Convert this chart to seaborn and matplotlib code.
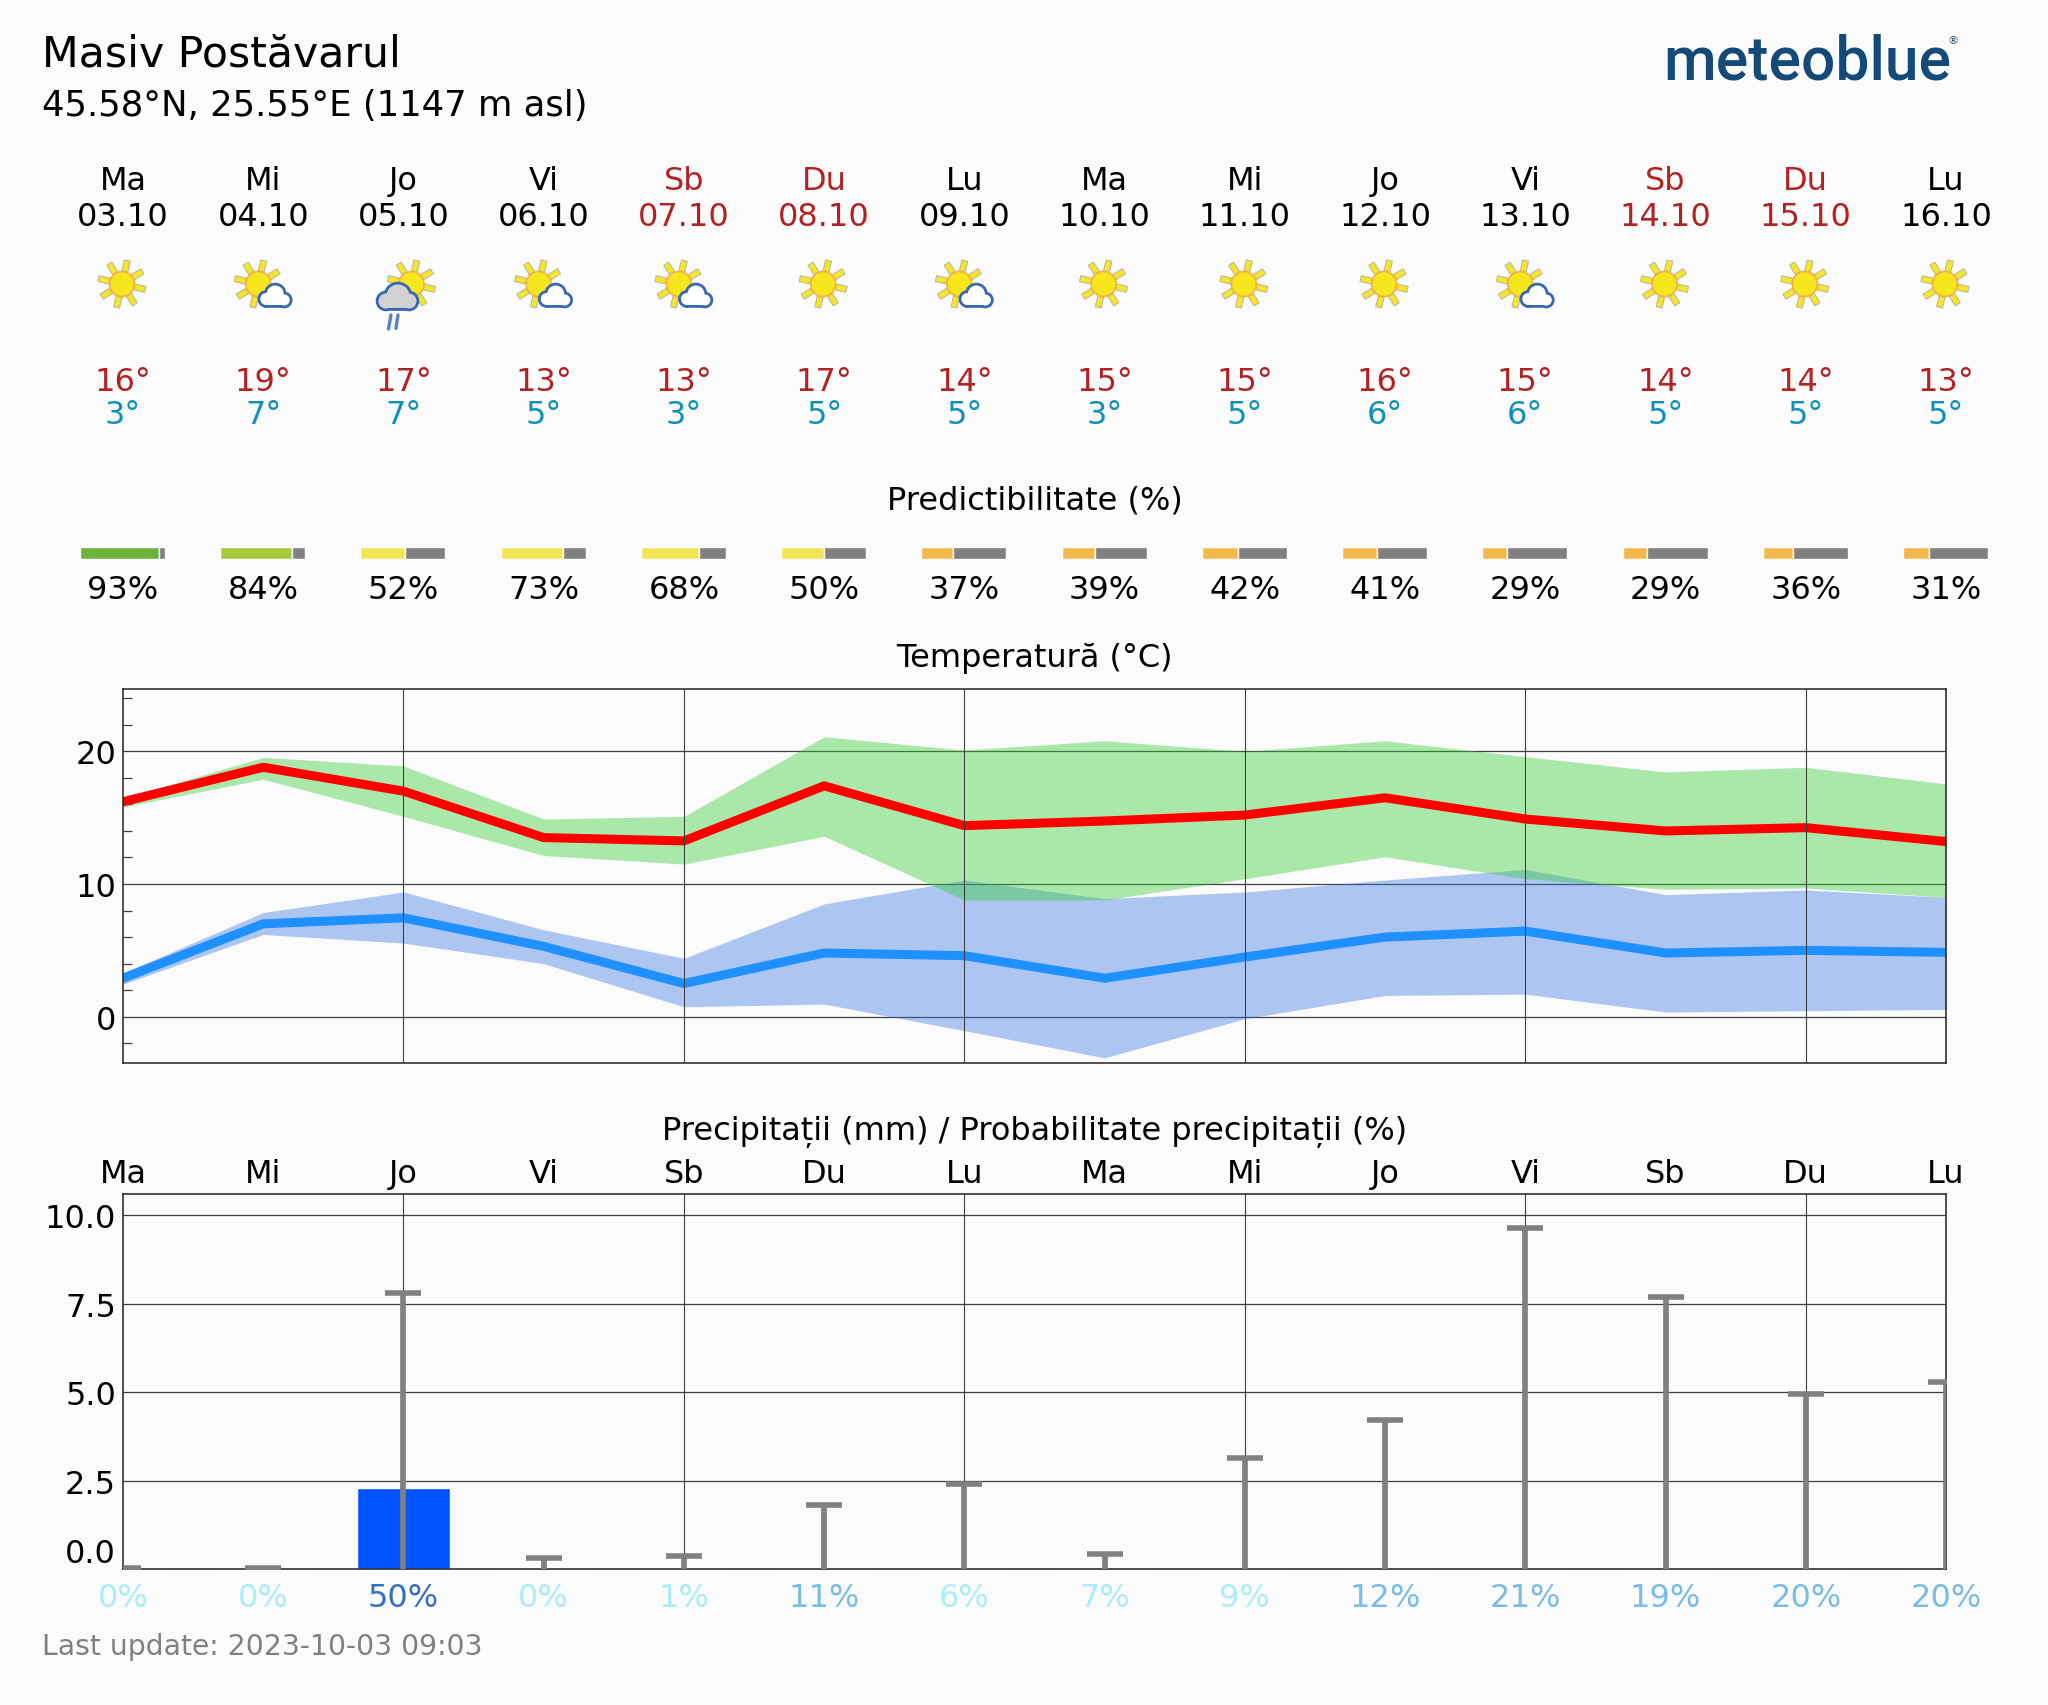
import numpy as np
import seaborn as sns
import matplotlib.pyplot as plt
from matplotlib.patches import Circle, Polygon

# Data
day_names = ['Ma', 'Mi', 'Jo', 'Vi', 'Sb', 'Du', 'Lu', 'Ma', 'Mi', 'Jo', 'Vi', 'Sb', 'Du', 'Lu']
dates = ['03.10', '04.10', '05.10', '06.10', '07.10', '08.10', '09.10',
         '10.10', '11.10', '12.10', '13.10', '14.10', '15.10', '16.10']
icons = ['sun', 'cloud', 'rain', 'cloud', 'cloud', 'sun', 'cloud',
         'sun', 'sun', 'sun', 'cloud', 'sun', 'sun', 'sun']
temp_high_labels = [16, 19, 17, 13, 13, 17, 14, 15, 15, 16, 15, 14, 14, 13]
temp_low_labels = [3, 7, 7, 5, 3, 5, 5, 3, 5, 6, 6, 5, 5, 5]
predictability = [93, 84, 52, 73, 68, 50, 37, 39, 42, 41, 29, 29, 36, 31]
precip_prob = [0, 0, 50, 0, 1, 11, 6, 7, 9, 12, 21, 19, 20, 20]

temp_max = [16.2, 18.8, 17.0, 13.5, 13.25, 17.4, 14.4, 14.75, 15.2, 16.5, 14.9, 14.0, 14.25, 13.2]
temp_max_upper = [16.45, 19.55, 18.9, 14.9, 15.1, 21.1, 20.1, 20.8, 20.0, 20.8, 19.6, 18.45, 18.8, 17.55]
temp_max_lower = [15.8, 17.9, 15.1, 12.15, 11.5, 13.6, 8.8, 8.8, 10.4, 12.05, 10.4, 9.6, 9.7, 9.0]
temp_min = [2.9, 7.0, 7.45, 5.3, 2.5, 4.8, 4.6, 2.9, 4.5, 6.0, 6.45, 4.8, 5.0, 4.85]
temp_min_upper = [3.3, 7.85, 9.4, 6.55, 4.4, 8.5, 10.3, 8.9, 9.4, 10.3, 11.1, 9.2, 9.55, 9.0]
temp_min_lower = [2.45, 6.2, 5.55, 4.0, 0.75, 0.95, -1.05, -3.1, -0.15, 1.6, 1.7, 0.35, 0.45, 0.55]

precip = [0, 0, 2.3, 0, 0, 0, 0, 0, 0, 0, 0, 0, 0, 0]
precip_upper = [0.03, 0.03, 7.8, 0.3, 0.38, 1.8, 2.4, 0.42, 3.15, 4.2, 9.64, 7.7, 4.95, 5.3]

days = np.arange(len(day_names))

W, H = 2048, 1706
X0, X1 = 123, 1946
BG = '#fbfbfb'
GRID = '#404040'
RED_TXT = '#b22222'
BIG = 23
ICON_Y = 285


def px_x(i):
    return X0 + (X1 - X0) / 13 * i


def add_axes_px(fig, left, top, right, bottom):
    return fig.add_axes([left / W, 1 - bottom / H, (right - left) / W, (bottom - top) / H])


def pred_color(p):
    if p >= 90:
        return '#6cb33b'
    if p >= 80:
        return '#a6cb3c'
    if p >= 50:
        return '#f3e455'
    return '#f2b84c'


def prob_color(p):
    if p >= 50:
        return '#3370c0'
    if p >= 10:
        return '#78bde5'
    return '#a9edf6'


def draw_sun(ov, cx, cy):
    for a in np.deg2rad(np.arange(8) * 45 + 32):
        d = np.array([np.cos(a), -np.sin(a)])
        n = np.array([-d[1], d[0]])
        c = np.array([cx, cy])
        pts = [c + d * 13 + n * 3, c + d * 24 + n * 3, c + d * 24 - n * 3, c + d * 13 - n * 3]
        ov.add_patch(Polygon(pts, closed=True, fc='#f5e628', ec='#bdb9a0', lw=0.8, zorder=3))
    ov.add_patch(Circle((cx, cy), 12.5, fc='#f5e61e', ec='#f5b042', lw=1.2, zorder=4))


def draw_cloud(ov, lobes, fill):
    xs = [l[0] for l in lobes]
    bottom = max(l[1] + l[2] for l in lobes)
    line = '#3766b4'
    for x, y, r in lobes:
        ov.add_patch(Circle((x, y), r, fc=line, ec=line, lw=4, zorder=5))
    ov.add_patch(Polygon([(min(xs), bottom), (max(xs), bottom), (max(xs), bottom - 8), (min(xs), bottom - 8)],
                         fc=fill, ec=line, lw=2.6, zorder=5))
    for x, y, r in lobes:
        ov.add_patch(Circle((x, y), r, fc=fill, ec='none', zorder=6))
    ov.add_patch(Polygon([(min(xs), bottom - 1), (max(xs), bottom - 1), (max(xs), bottom - 8), (min(xs), bottom - 8)],
                         fc=fill, ec='none', zorder=6))


sns.set_theme(style='white')
plt.rcParams['font.family'] = ['DejaVu Sans']
plt.rcParams['axes.linewidth'] = 1.1
plt.rcParams['axes.edgecolor'] = '#222222'

fig = plt.figure(figsize=(W / 100, H / 100), dpi=100, facecolor=BG)

# Temperature chart
ax_t = add_axes_px(fig, X0, 690, X1, 1064)
ax_t.set_facecolor(BG)
ax_t.fill_between(days, temp_min_lower, temp_min_upper, color='#3975e3', alpha=0.4, lw=0)
ax_t.fill_between(days, temp_max_lower, temp_max_upper, color='limegreen', alpha=0.4, lw=0)
sns.lineplot(x=days, y=temp_max, color='red', linewidth=6.5, ax=ax_t)
sns.lineplot(x=days, y=temp_min, color='dodgerblue', linewidth=6.5, ax=ax_t)
ax_t.set_xlim(0, 13)
ax_t.set_ylim(-3.49, 24.7)
ax_t.set_xticks([])
ax_t.set_yticks([0, 10, 20])
ax_t.set_yticks(np.arange(-2, 25, 2), minor=True)
ax_t.tick_params(axis='y', which='major', length=0, pad=5, labelsize=BIG, labelcolor='black')
ax_t.tick_params(axis='y', which='minor', left=True, direction='in', length=6.5, width=0.9, color=GRID)
ax_t.grid(axis='y', which='major', color=GRID, lw=0.9)
for d in days[2:13:2]:
    ax_t.axvline(d, color=GRID, lw=0.8, zorder=2.5)

# Precipitation chart
ax_p = add_axes_px(fig, X0, 1195, X1, 1570)
ax_p.set_facecolor(BG)
sns.barplot(x=days, y=precip, native_scale=True, width=0.663, color='#0055ff', saturation=1, ax=ax_p)
zeros = np.zeros(len(days))
_, caps, _ = ax_p.errorbar(days, zeros, yerr=[zeros, precip_upper], fmt='none', ecolor='#808080',
                           elinewidth=4.1, capsize=12.8, capthick=4, zorder=4)
caps[0].set_visible(False)  # only the upper cap is drawn
ax_p.set_xlim(0, 13)
ax_p.set_ylim(0, 10.6)
ax_p.set_xlabel('')
ax_p.set_ylabel('')
ax_p.set_xticks(days)
ax_p.set_xticklabels(day_names)
ax_p.xaxis.tick_top()
ax_p.tick_params(axis='x', length=0, pad=3.5, labelsize=BIG, labelcolor='black')
ax_p.set_yticks([0, 2.5, 5, 7.5, 10])
ax_p.set_yticklabels(['0.0', '2.5', '5.0', '7.5', '10.0'])
ax_p.tick_params(axis='y', length=0, pad=5, labelsize=BIG, labelcolor='black')
ax_p.get_yticklabels()[0].set_verticalalignment('bottom')
ax_p.set_axisbelow(True)
ax_p.grid(axis='y', color=GRID, lw=0.9)
ax_p.grid(axis='x', visible=False)
for d in days[2:13:2]:
    ax_p.axvline(d, color=GRID, lw=0.8, zorder=0.5)

# Overlay in pixel coordinates for all the loose text and icons
ov = fig.add_axes([0, 0, 1, 1], facecolor='none')
ov.axis('off')

ov.text(42, 66, 'Masiv Postăvarul', fontsize=30.7, color='black', va='baseline')
ov.text(42, 116, '45.58°N, 25.55°E (1147 m asl)', fontsize=25.55, color='black', va='baseline')
ov.text(1663, 79, 'meteoblue', fontsize=43.6, family='Roboto', weight='medium', color='#144a78', va='baseline')
ov.text(1953, 41, '®', fontsize=8, color='#144a78', ha='center', va='center')

for i in days:
    x = px_x(i)
    c = RED_TXT if day_names[i] in ('Sb', 'Du') else 'black'
    ov.text(x, 190, day_names[i], fontsize=BIG, color=c, ha='center', va='baseline')
    ov.text(x, 226, dates[i], fontsize=BIG, color=c, ha='center', va='baseline')
    ov.text(x, 391, f'{temp_high_labels[i]}°', fontsize=BIG, color=RED_TXT, ha='center', va='baseline')
    ov.text(x, 424, f'{temp_low_labels[i]}°', fontsize=BIG, color='#0f90ba', ha='center', va='baseline')

    # predictability bar
    bw = 85
    ov.barh(554, bw * predictability[i] / 100, height=12, left=x - 43, color=pred_color(predictability[i]))
    ov.barh(554, bw * (100 - predictability[i]) / 100, height=12,
            left=x - 43 + bw * predictability[i] / 100, color='#808080')
    ov.text(x, 599, f'{predictability[i]}%', fontsize=BIG, color='black', ha='center', va='baseline')

    ov.text(x, 1607, f'{precip_prob[i]}%', fontsize=BIG, color=prob_color(precip_prob[i]), ha='center', va='baseline')

    if icons[i] == 'sun':
        draw_sun(ov, x - 1, ICON_Y)
    elif icons[i] == 'cloud':
        draw_sun(ov, x - 5, ICON_Y)
        draw_cloud(ov, [(x + 12, ICON_Y + 10, 8.5), (x + 3, ICON_Y + 15, 6), (x + 21, ICON_Y + 16, 5.5)], 'white')
    else:
        draw_sun(ov, x + 8, ICON_Y)
        draw_cloud(ov, [(x - 5.5, ICON_Y + 12, 11.5), (x - 17.5, ICON_Y + 17, 7.5), (x + 5.5, ICON_Y + 17, 7.5)], '#d2d2d2')
        ov.plot([x - 12.5, x - 15], [ICON_Y + 31, ICON_Y + 45], color='#5a82c0', lw=2.4, zorder=6)
        ov.plot([x - 5.5, x - 7.5], [ICON_Y + 31, ICON_Y + 44.5], color='#5a82c0', lw=2.4, zorder=6)

ov.set_xlim(0, W)
ov.set_ylim(H, 0)

xm = (X0 + X1) / 2
ov.text(xm, 509, 'Predictibilitate (%)', fontsize=BIG, color='black', ha='center', va='baseline')
ov.text(xm, 667, 'Temperatură (°C)', fontsize=BIG, color='black', ha='center', va='baseline')
ov.text(xm, 1140, 'Precipitații (mm) / Probabilitate precipitații (%)', fontsize=BIG, color='black',
        ha='center', va='baseline')
ov.text(42, 1655, 'Last update: 2023-10-03 09:03', fontsize=20.35, color='#808080', va='baseline')

fig.savefig('out.png', dpi=100, facecolor=BG)
